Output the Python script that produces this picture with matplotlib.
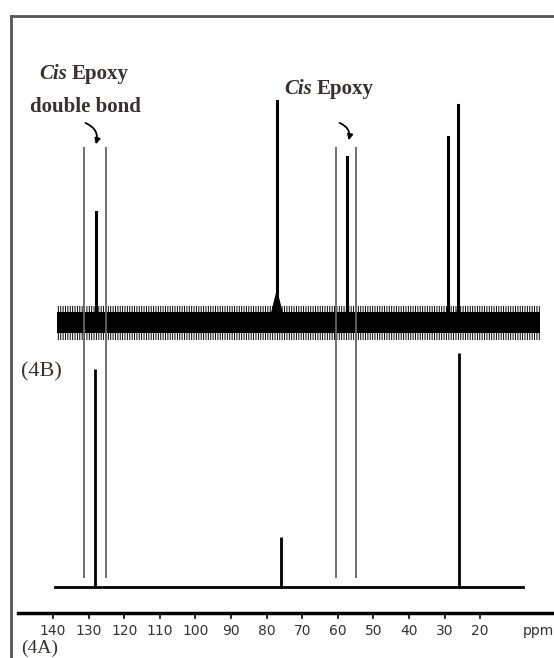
"""
13C NMR spectra 4A / 4B with cis epoxy and double bond marks
"""
import matplotlib
matplotlib.use('Agg')
import matplotlib.pyplot as plt

# Data (ppm, heights in picture units above each baseline)
ppm_ticks = [140, 130, 120, 110, 100, 90, 80, 70, 60, 50, 40, 30, 20]

peaks_4a_ppm = [128.2, 76.0, 26.0]
peaks_4a_height = [218, 50, 234]

peaks_4b_ppm = [127.9, 77.1, 57.4, 29.0, 26.2]
peaks_4b_height = [110, 221, 165, 185, 217]
peaks_4b_foot = [0.9, 2.3, 0.6, 0.5, 0.6]

marker_ppm = [131.3, 125.1, 60.5, 54.9]

# Layout
W, H = 554, 658
BASE_4A = 71
BASE_4B = 336
MARK_LO, MARK_HI = 80, 511
AXIS_Y = 45
TXT = '#3b3030'

plt.rcParams['hatch.linewidth'] = 0.7


def px2ppm(px):
    return 140 - (px - 53) / 3.56


fig = plt.figure(figsize=(W / 100, H / 100), dpi=100)
ax = fig.add_axes([0, 0, 1, 1])
ax.set_xlim(px2ppm(0), px2ppm(W))
ax.set_ylim(0, H)
ax.axis('off')

# frame (top and left only)
ax.plot([px2ppm(11), px2ppm(W)], [H - 16, H - 16], color='#555555', lw=2)
ax.plot([px2ppm(11), px2ppm(11)], [H - 16, 0], color='#555555', lw=2)

# ppm axis
ax.plot([px2ppm(18), px2ppm(W)], [AXIS_Y, AXIS_Y], color='black', lw=2.5)
for t in ppm_ticks:
    ax.plot([t, t], [AXIS_Y, AXIS_Y - 5], color='black', lw=1.2)
    ax.text(t, 27, str(t), ha='center', va='center', fontsize=10,
            color='#333333', family='DejaVu Sans')
ax.text(px2ppm(523), 27, 'ppm', ha='left', va='center', fontsize=10,
        color='#333333', family='DejaVu Sans')

# marker lines
ax.vlines(marker_ppm, MARK_LO, MARK_HI, color='#666666', lw=1.3)

# spectrum 4A
ax.plot([px2ppm(55), px2ppm(523)], [BASE_4A, BASE_4A], color='black', lw=2)
ax.vlines(peaks_4a_ppm, BASE_4A, [BASE_4A + h for h in peaks_4a_height],
          color='black', lw=2)

# spectrum 4B: noise band
x0, x1 = px2ppm(57), px2ppm(540)
ax.fill_between([x0, x1], BASE_4B - 18, BASE_4B + 16, facecolor='none',
                edgecolor='black', hatch='|||||||', lw=0)
ax.fill_between([x0, x1], BASE_4B - 11, BASE_4B + 10, color='black', lw=0)
for p, h, f in zip(peaks_4b_ppm, peaks_4b_height, peaks_4b_foot):
    ax.fill([p - f, p, p + f], [BASE_4B, BASE_4B + h * 0.15, BASE_4B],
            color='black', lw=0)
    ax.plot([p, p], [BASE_4B, BASE_4B + h], color='black', lw=2.2)

# labels
serif = 'Liberation Serif'
ax.text(px2ppm(21), H - 648, '(4A)', ha='left', va='center', fontsize=14,
        family=serif, color=TXT)
ax.text(px2ppm(21), H - 372, '(4B)', ha='left', va='center', fontsize=16,
        family=serif, color=TXT)

ax.text(px2ppm(39), H - 74, 'Cis', ha='left', va='center', fontsize=15,
        family=serif, weight='bold', style='italic', color=TXT)
ax.text(px2ppm(72), H - 74, 'Epoxy', ha='left', va='center', fontsize=15,
        family=serif, weight='bold', color=TXT)
ax.text(px2ppm(85), H - 107, 'double bond', ha='center', va='center',
        fontsize=15, family=serif, weight='bold', color=TXT)
ax.text(px2ppm(284), H - 89, 'Cis', ha='left', va='center', fontsize=15,
        family=serif, weight='bold', style='italic', color=TXT)
ax.text(px2ppm(317), H - 89, 'Epoxy', ha='left', va='center', fontsize=15,
        family=serif, weight='bold', color=TXT)

# curved pointers
for (sx, sy), (ex, ey) in [((83, 122), (95, 147)), ((337, 122), (348, 143))]:
    ax.annotate('', xy=(px2ppm(ex), H - ey), xytext=(px2ppm(sx), H - sy),
                arrowprops=dict(arrowstyle='-|>', color='black', lw=1.3,
                                mutation_scale=8,
                                connectionstyle='arc3,rad=-0.5'))

plt.savefig('out.png', dpi=100)
plt.close()
